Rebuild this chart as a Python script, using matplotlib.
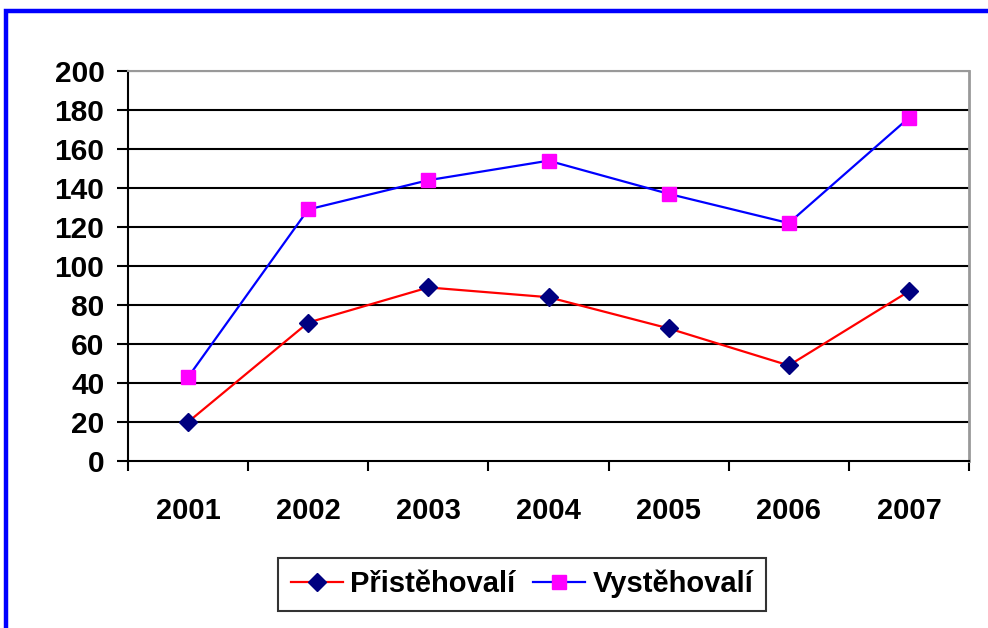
import matplotlib
matplotlib.use("Agg")
import matplotlib.pyplot as plt
from matplotlib.patches import Rectangle

years = ["2001", "2002", "2003", "2004", "2005", "2006", "2007"]
pristehovali = [20, 71, 89, 84, 68, 49, 87]
vystehovali = [43, 129, 144, 154, 137, 122, 176]
yticks = [0, 20, 40, 60, 80, 100, 120, 140, 160, 180, 200]

plt.rcParams['font.family'] = ['Liberation Sans', 'DejaVu Sans']
plt.rcParams['font.weight'] = 'bold'

fig = plt.figure(figsize=(9.88, 6.28), dpi=100)
fig.patch.set_facecolor('white')

# outer blue frame (partially cut off)
fig.patches.append(Rectangle((6 / 988, -0.1), 1.2, (628 - 11) / 628 + 0.1,
                             transform=fig.transFigure, fill=False,
                             edgecolor='#0000FF', linewidth=3.2, zorder=0))

W, H = 988, 628
left, right, top, bottom = 128, 969, 71, 461
ax = fig.add_axes([left / W, 1 - bottom / H, (right - left) / W, (bottom - top) / H])

x = list(range(len(years)))
ax.plot(x, pristehovali, color='#FF0000', lw=1.6, marker='D', markersize=9,
        markerfacecolor='#000080', markeredgecolor='#000080', label='Přistěhovalí', zorder=3)
ax.plot(x, vystehovali, color='#0000FF', lw=1.6, marker='s', markersize=10,
        markerfacecolor='#FF00FF', markeredgecolor='#FF00FF', label='Vystěhovalí', zorder=3)

ax.set_xlim(-0.5, len(years) - 0.5)
ax.set_ylim(0, 200)
ax.set_yticks(yticks)
ax.set_yticklabels([str(v) for v in yticks], fontsize=21.5, fontweight='bold')
for v in yticks[1:]:
    ax.axhline(v, color='black', lw=1.5, zorder=1)

ax.set_xticks([i - 0.5 for i in range(len(years) + 1)])
ax.set_xticklabels([])
ax.set_xticks(x, minor=True)
ax.set_xticklabels(years, minor=True, fontsize=21, fontweight='bold')
ax.tick_params(axis='x', which='major', direction='out', length=7, width=1.5, color='black')
ax.tick_params(axis='x', which='minor', length=0, pad=26)
ax.tick_params(axis='y', direction='out', length=8, width=1.5, pad=9)

ax.spines['left'].set_color('black')
ax.spines['left'].set_linewidth(1.5)
ax.spines['bottom'].set_color('black')
ax.spines['bottom'].set_linewidth(1.5)
ax.spines['top'].set_color('#999999')
ax.spines['top'].set_linewidth(1.5)
ax.spines['right'].set_color('#999999')
ax.spines['right'].set_linewidth(2)

leg = fig.legend(loc='center', bbox_to_anchor=(522 / W, 1 - 584 / H), ncol=2,
                 frameon=True, fancybox=False, edgecolor='black',
                 prop={'size': 21, 'weight': 'bold'}, handlelength=1.8,
                 columnspacing=0.6, handletextpad=0.25, borderpad=0.42)
leg.get_frame().set_linewidth(1.5)

fig.savefig('out.png', dpi=100)
